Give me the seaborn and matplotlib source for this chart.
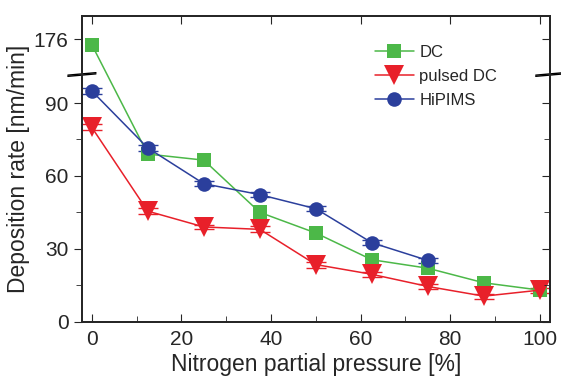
import numpy as np
import pandas as pd
import matplotlib
matplotlib.use('Agg')
import matplotlib.pyplot as plt
import seaborn as sns

sns.set_style('ticks')
plt.rcParams['font.family'] = ['Liberation Sans', 'DejaVu Sans']

# data
pressure = [0, 12.5, 25, 37.5, 50, 62.5, 75, 87.5, 100]
dc = [165, 69, 66.5, 45, 36.5, 25.5, 22, 16, 13]
pulsed_dc = [80, 45.5, 39, 38, 23.5, 19.5, 14.5, 10.5, 13]
hipims = [95, 71.5, 56.8, 52.3, 46.5, 32.5, 25.2, np.nan, np.nan]
pulsed_err = [1.2, 1.2, 1.0, 1.2, 1.2, 1.0, 1.0, 1.0, 1.0]
hipims_err = [1.2, 1.2, 1.0, 1.0, 1.0, 1.0, 1.2, np.nan, np.nan]

series = ['DC', 'pulsed DC', 'HiPIMS']
colors = {'DC': '#4cb848', 'pulsed DC': '#e8202a', 'HiPIMS': '#2b3f9c'}
markers = {'DC': 's', 'pulsed DC': 'v', 'HiPIMS': 'o'}
msize = {'DC': 10.5, 'pulsed DC': 14, 'HiPIMS': 10.5}

df = pd.concat([
    pd.DataFrame({'p': pressure, 'rate': vals, 'series': name})
    for name, vals in zip(series, [dc, pulsed_dc, hipims])
]).dropna()

# broken y axis: linear up to BRK, compressed above
BRK, K = 101.0, 0.204


def fwd(y):
    y = np.asarray(y, float)
    return np.where(y <= BRK, y, BRK + (y - BRK) * K)


def inv(v):
    v = np.asarray(v, float)
    return np.where(v <= BRK, v, BRK + (v - BRK) / K)


fig = plt.figure(figsize=(5.61, 3.78), dpi=100)
ax = fig.add_axes([0.146, 0.149, 0.834, 0.809])
ax.set_yscale('function', functions=(fwd, inv))

# error bars first, markers over them
for name, vals, err in [('pulsed DC', pulsed_dc, pulsed_err), ('HiPIMS', hipims, hipims_err)]:
    ax.errorbar(pressure, vals, yerr=err, fmt='none', ecolor=colors[name],
                elinewidth=1, capsize=7, capthick=1, zorder=2)

sns.lineplot(data=df, x='p', y='rate', hue='series', style='series',
             palette=colors, markers=markers, dashes=False, sort=False,
             markersize=10, markeredgewidth=0, linewidth=1.1, ax=ax, zorder=3)

# per-series marker size
for ln in ax.lines:
    lab = ln.get_label()
    if lab in msize:
        ln.set_markersize(msize[lab])
for ln in ax.lines:
    c = ln.get_color()
    for name in series:
        if matplotlib.colors.same_color(c, colors[name]) and ln.get_marker() == markers[name]:
            ln.set_markersize(msize[name])

ax.set_xlim(-2.2, 102.2)
ax.set_ylim(0, 223)
ax.set_xticks([0, 20, 40, 60, 80, 100])
ax.set_xticks([10, 30, 50, 70, 90], minor=True)
ax.set_yticks([0, 30, 60, 90, 176])
ax.set_yticks([15, 45, 75], minor=True)
ax.tick_params(axis='x', which='both', direction='in', labelsize=15, length=6, pad=6)
ax.tick_params(axis='x', which='minor', length=4)
ax.tick_params(axis='y', which='major', direction='out', labelsize=15, length=6)
ax.tick_params(axis='y', which='minor', direction='out', length=4)
ax.set_xlabel('Nitrogen partial pressure [%]', fontsize=16.5, labelpad=3)
ax.set_ylabel('Deposition rate [nm/min]', fontsize=16.5, labelpad=3)
for s in ax.spines.values():
    s.set_linewidth(1.2)

# mirrored ticks on right and top
axr = ax.twinx()
axr.set_yscale('function', functions=(fwd, inv))
axr.set_ylim(ax.get_ylim())
axr.set_yticks([0, 30, 60, 90, 176])
axr.set_yticks([15, 45, 75], minor=True)
axr.tick_params(axis='y', which='both', direction='in', labelright=False, length=6)
axr.tick_params(axis='y', which='minor', length=4)
axt = ax.twiny()
axt.set_xlim(ax.get_xlim())
axt.set_xticks([0, 20, 40, 60, 80, 100])
axt.tick_params(axis='x', direction='in', labeltop=False, length=6)
for a in (axr, axt):
    for s in a.spines.values():
        s.set_linewidth(1.2)

# break marks on both spines
trans = ax.get_yaxis_transform()
for xs in (0.0, 1.0):
    ax.plot([xs - 0.03, xs + 0.03], [BRK + 1.5, BRK + 6], color='white', lw=4,
            transform=trans, clip_on=False, zorder=5)
    for off in (0.0, 2.4):
        ax.plot([xs - 0.03, xs + 0.03], [BRK + off, BRK + off + 5], color='black', lw=1,
                transform=trans, clip_on=False, zorder=6)

h, l = ax.get_legend_handles_labels()
for hd in h:
    for name in series:
        if hd.get_label() == name:
            hd.set_markersize(msize[name])
ax.legend(h, l, loc='upper left', bbox_to_anchor=(0.595, 0.955), frameon=False,
          fontsize=12, handlelength=2.3, handletextpad=0.35, labelspacing=0.55)

fig.savefig('out.png', dpi=100)
